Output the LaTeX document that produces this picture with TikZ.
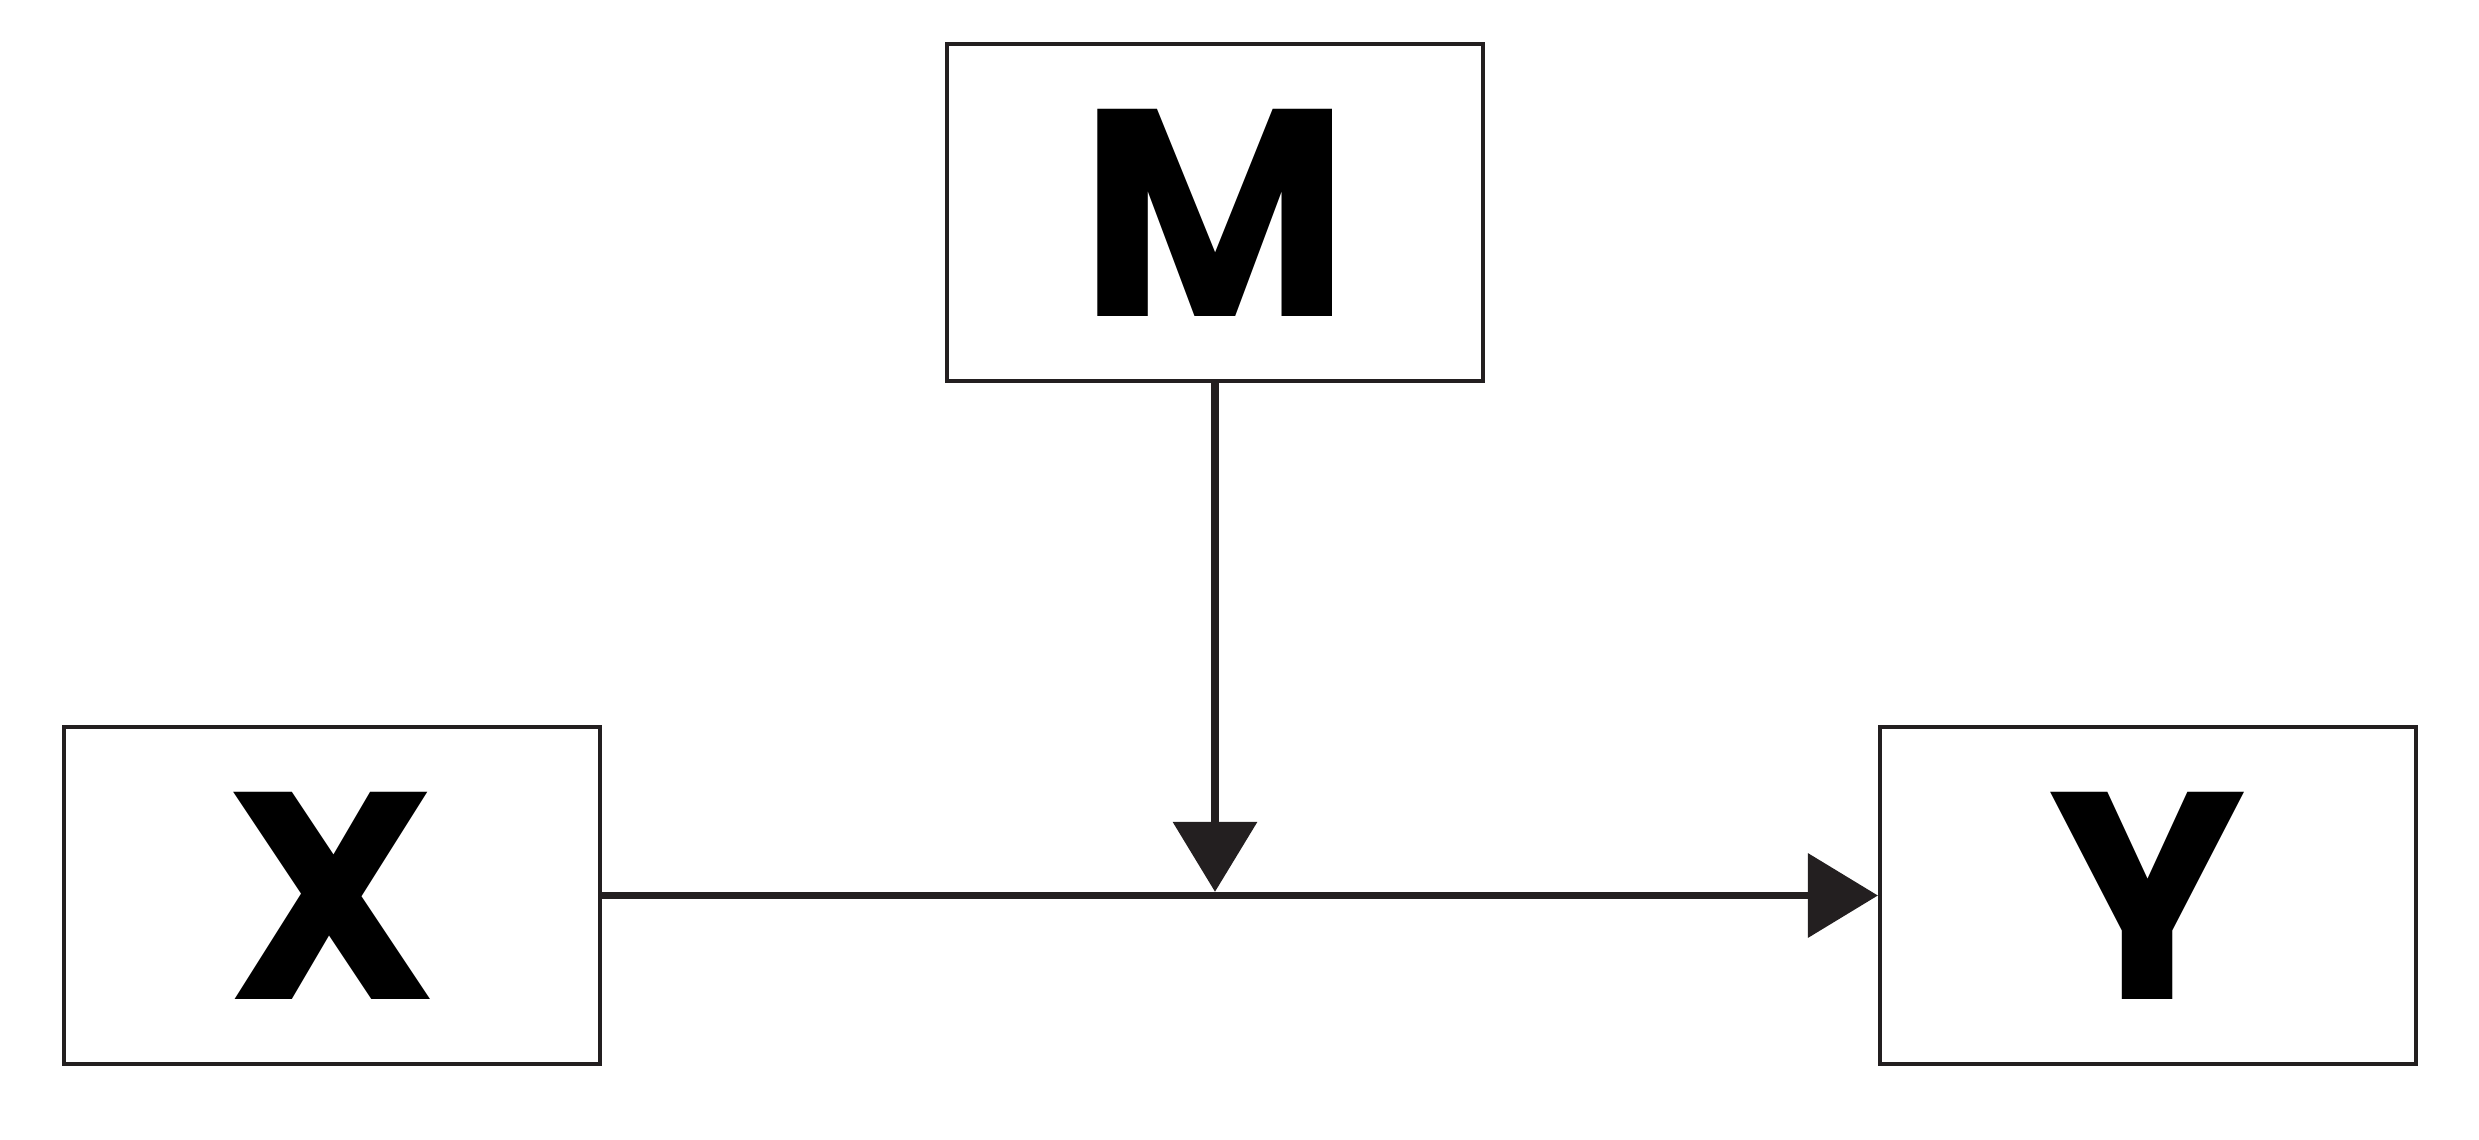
\documentclass[tikz,border=0pt]{standalone}
\usepackage{fontspec}
\newfontfamily\boxfont{Poppins}
\usetikzlibrary{arrows.meta,positioning,calc}
\definecolor{linegray}{HTML}{231F20}
\tikzstyle{box} = [rectangle, draw=linegray, line width=1.2pt, fill=white, minimum width=5.36cm, minimum height=3.37cm, inner sep=0pt, font=\boxfont\bfseries\fontsize{84}{84}\selectfont]
\tikzstyle{line} = [draw=linegray, line width=2.1pt, -{Triangle[length=0.7cm, width=0.83cm]}]
\begin{document}
\begin{tikzpicture}
		\useasboundingbox (0,0) rectangle (24.79,11.39);
		% Place nodes
		\node [box] (m) at (12.15,9.265) {M};
		\node [box, below of=m, node distance=6.83cm, xshift=-8.83cm] (x) {X};
		\node [box, below of=m, node distance=6.83cm, xshift=9.33cm] (y) {Y};
		\coordinate (join) at ($(m |- x)+(0,0.037)$);
		
		% Draw edges
		\path [line] (x) -- (y);
		\path [line] (m) -- (join);
	\end{tikzpicture}
\end{document}
